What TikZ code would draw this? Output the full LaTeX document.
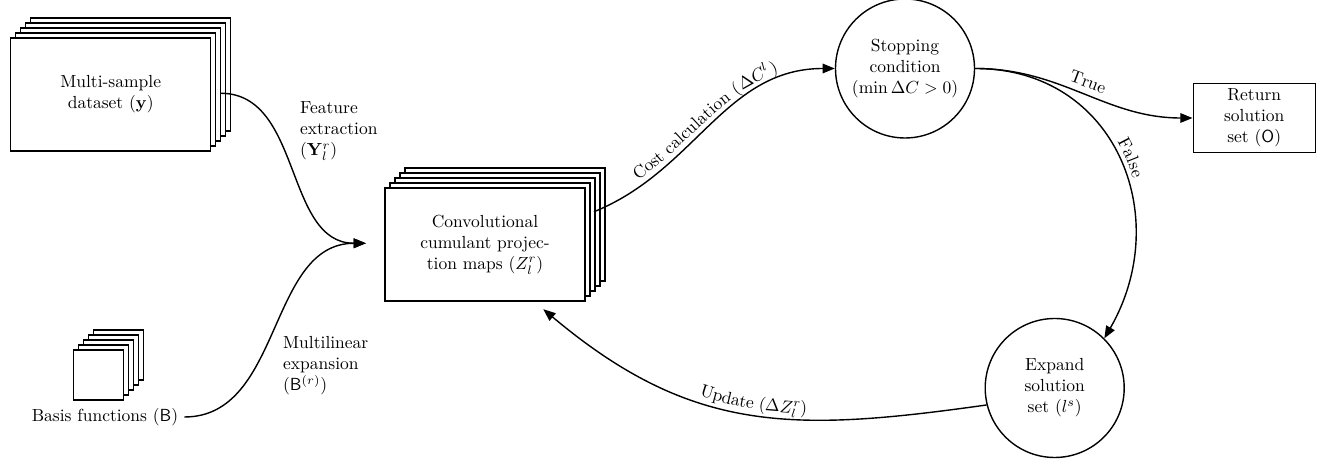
\documentclass[tikz,border=0pt]{standalone}
\usetikzlibrary{arrows.meta,decorations.text}

\def\px{0.5714pt}

\tikzset{
  sheet/.style={draw, thick, fill=white, minimum width=200*\px, minimum height=113*\px, align=center, inner sep=0pt},
  tile/.style={draw, thick, fill=white, minimum size=50*\px, inner sep=0pt},
  state/.style={draw, thick, circle, minimum size=139*\px, align=center, inner sep=0pt},
  outbox/.style={draw, thick, minimum width=122*\px, minimum height=69*\px, align=center, inner sep=0pt},
  flow/.style={thick, -{Triangle[length=7pt,width=5.5pt]}},
  pathlabel/.style={postaction={decorate, decoration={text along path, text={#1}, text align=center, raise=3.5pt}}},
  revlabel/.style={postaction={decorate, decoration={text along path, reverse path, text={#1}, text align=center, raise=3.5pt}}}
}

\begin{document}
\begin{tikzpicture}[x=\px, y=\px]
    \useasboundingbox (0,0) rectangle (1330,-467);

    % stacked inputs
    \foreach \k in {4,3,2,1} {
      \draw[thick, fill=white] ({10.7+5*\k},{-151+5*\k}) rectangle ++(200,113);
      \draw[thick, fill=white] ({385+5*\k},{-301+5*\k}) rectangle ++(200,113);
      \draw[thick, fill=white] ({73.3+5*\k},{-400+5*\k}) rectangle ++(50,50);
    }
    \node[sheet] (data) at (110.7,-94.5) {Multi-sample\\dataset ($\mathbf{y}$)};
    \node[sheet] (conv) at (485,-244.5) {Convolutional\\cumulant projec-\\tion maps ($Z_l^r$)};
    \node[tile] (basis) at (98.3,-375) {};
    \node (basislbl) at (105,-417) {Basis functions ($\mathsf{B}$)};

    % loop
    \node[state] (stop) at (905,-68.5) {Stopping\\condition\\($\min\Delta C>0$)};
    \node[outbox] (ret) at (1254.2,-118) {Return\\solution\\set ($\mathsf{O}$)};
    \node[state] (expand) at (1054.7,-388) {Expand\\solution\\set ($l^s$)};

    % edge labels
    \node[anchor=west, align=left] (featlbl) at (294,-131) {Feature\\extraction\\($\mathbf{Y}_l^r$)};
    \node[anchor=west, align=left] (multlbl) at (277,-366) {Multilinear\\expansion\\($\mathsf{B}^{(r)}$)};

    \coordinate (dataout) at ([xshift=5.3pt,yshift=0.7pt]data.east);
    \coordinate (convin) at ([xshift=-10.5pt,yshift=0.7pt]conv.west);
    \coordinate (convout) at ([shift={(4.7pt,18.7pt)}]conv.east);
    \coordinate (convback) at ([shift={(33.3pt,-4.3pt)}]conv.south);

    \draw[flow] (dataout) to[out=0, in=180] (convin);
    \draw[flow] (basislbl.east) to[out=0, in=180] (convin);
    \draw[flow, pathlabel={Cost calculation ({$\Delta C^l$})}] (convout) to[out=22, in=180] (stop.west);
    \draw[flow, pathlabel={True}] (stop.east) to[out=0, in=180] (ret.west);
    \draw[flow, pathlabel={False}] (stop.east) to[out=0, in=60, looseness=1.2] (expand.north east);
    \draw[flow, revlabel={Update ({$\Delta Z_l^r$})}] (expand.194) to[out=188, in=320, looseness=1.1] (convback);
\end{tikzpicture}
\end{document}
